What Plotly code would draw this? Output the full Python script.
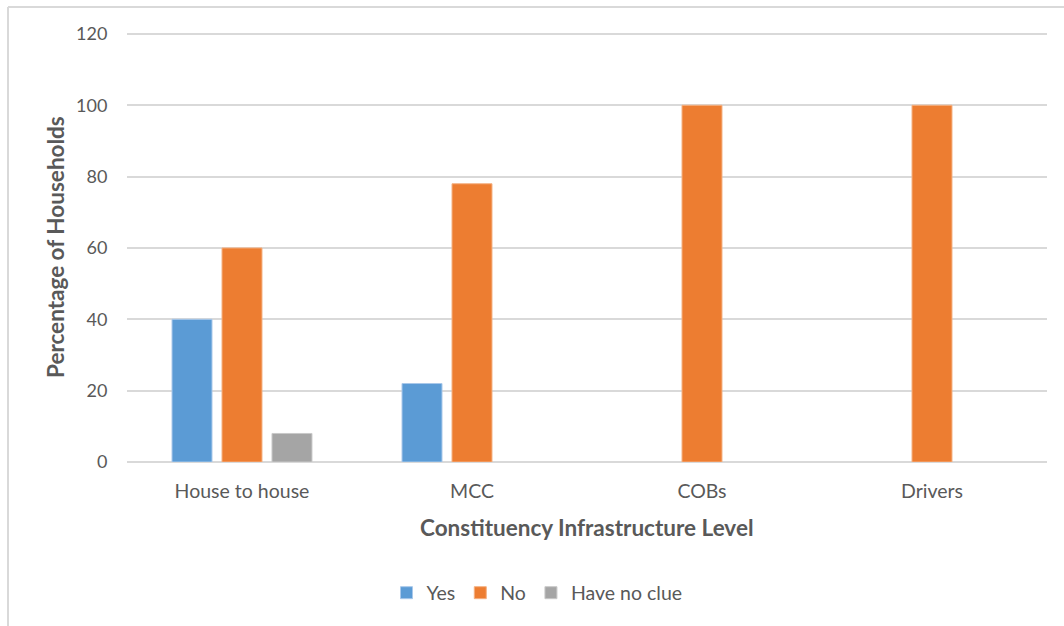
import plotly.graph_objects as go

categories = ["House to house", "MCC", "COBs", "Drivers"]
yes_vals = [40, 22, None, None]
no_vals = [60, 78, 100, 100]
noclue_vals = [8, None, None, None]
y_ticks = [0, 20, 40, 60, 80, 100, 120]

FONT = "Lato, 'Open Sans', sans-serif"
TXT = "#595959"

fig = go.Figure()
fig.add_trace(go.Bar(name="Yes", x=categories, y=yes_vals, marker=dict(color="#5b9bd5", line=dict(color="#a9c8ea", width=1))))
fig.add_trace(go.Bar(name="No", x=categories, y=no_vals, marker=dict(color="#ed7d31", line=dict(color="#f4b183", width=1))))
fig.add_trace(go.Bar(name="Have no clue", x=categories, y=noclue_vals, marker=dict(color="#a5a5a5", line=dict(color="#c9c9c9", width=1))))

L, R, T, B = 127, 17, 30, 164
W, H = 1064, 626
pw = W - L - R
ph = H - T - B

def px_x(p):
    return (p - L) / pw

def px_y(p):
    return (H - B - p) / ph

fig.update_layout(
    width=W, height=H,
    margin=dict(l=L, r=R, t=T, b=B),
    paper_bgcolor="white", plot_bgcolor="white",
    barmode="group", bargap=0.348, bargroupgap=0.2,
    font=dict(family=FONT, color=TXT, size=18),
    showlegend=True,
    legend=dict(orientation="h", x=px_x(537), xanchor="center", y=px_y(593), yanchor="middle",
                font=dict(size=19.5, color=TXT), itemwidth=30, tracegroupgap=0),
    xaxis=dict(showgrid=False, showline=False, ticks="outside", ticklen=12, tickcolor="rgba(0,0,0,0)",
               tickfont=dict(size=19.5, color=TXT)),
    yaxis=dict(range=[0, 121.1], tickvals=y_ticks, showgrid=True, gridcolor="#d9d9d9", gridwidth=1.5,
               zeroline=True, zerolinecolor="#d9d9d9", zerolinewidth=1.5,
               ticks="outside", ticklen=15, tickcolor="rgba(0,0,0,0)",
               tickfont=dict(size=18, color=TXT)),
    annotations=[
        dict(text="<b>Constituency Infrastructure Level</b>", xref="paper", yref="paper",
             x=px_x(586), y=px_y(527), xanchor="center", yanchor="middle", showarrow=False,
             font=dict(size=22.5, color=TXT, family=FONT)),
        dict(text="<b>Percentage of Households</b>", xref="paper", yref="paper",
             x=px_x(55), y=px_y(247), xanchor="center", yanchor="middle", showarrow=False, textangle=-90,
             font=dict(size=22.5, color=TXT, family=FONT)),
    ],
    shapes=[
        dict(type="line", xref="paper", yref="paper", x0=px_x(8), x1=px_x(1070), y0=px_y(7), y1=px_y(7),
             line=dict(color="#d9d9d9", width=2)),
        dict(type="line", xref="paper", yref="paper", x0=px_x(8), x1=px_x(8), y0=px_y(7), y1=px_y(640),
             line=dict(color="#d9d9d9", width=2)),
    ],
)

fig.write_html("out.html")
